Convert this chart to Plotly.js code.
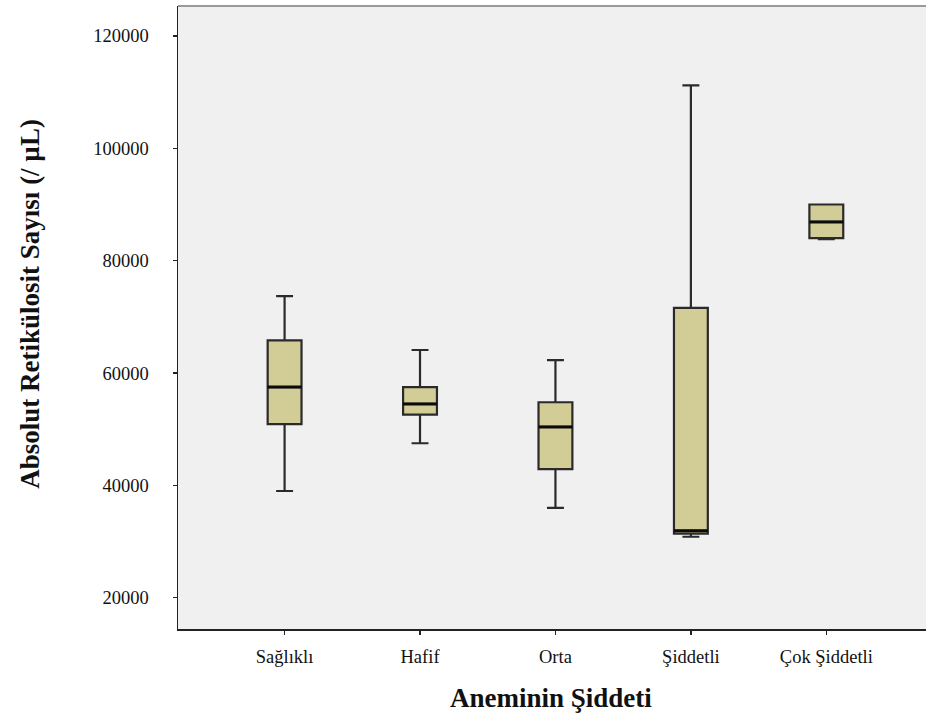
<!DOCTYPE html>
<html>
<head>
<meta charset="utf-8">
<script src="https://cdn.plot.ly/plotly-3.0.1.min.js"></script>
<style>html,body{margin:0;padding:0;background:#fff;overflow:hidden;}#chart{width:926px;height:718px;}</style>
</head>
<body>
<div id="chart"></div>
<script>
// Data
const categories = ["Sağlıklı", "Hafif", "Orta", "Şiddetli", "Çok Şiddetli"];
const lowerWhisker = [39000, 47500, 36000, 30850, 83850];
const q1Values     = [50900, 52600, 42900, 31400, 84000];
const medianValues = [57500, 54500, 50400, 31900, 86900];
const q3Values     = [65800, 57500, 54800, 71600, 90000];
const upperWhisker = [73700, 64100, 62300, 111200, 90000];
const yTickValues  = [20000, 40000, 60000, 80000, 100000, 120000];

const positions = categories.map((c, i) => i);
const boxWidth = 0.25;

// median overlay segments derived from the data
const medX = [], medY = [];
positions.forEach((p, i) => {
  medX.push(p - boxWidth / 2, p + boxWidth / 2, null);
  medY.push(medianValues[i], medianValues[i], null);
});

const fontFam = '"Liberation Serif", "Times New Roman", serif';

const traces = [
  {
    type: 'box',
    x: positions,
    q1: q1Values,
    median: medianValues,
    q3: q3Values,
    lowerfence: lowerWhisker,
    upperfence: upperWhisker,
    width: boxWidth,
    whiskerwidth: 0.5,
    fillcolor: '#d2cc96',
    line: {color: '#2a2a2a', width: 2.2},
    boxpoints: false,
    hoverinfo: 'skip',
    showlegend: false
  },
  {
    type: 'scatter',
    mode: 'lines',
    x: medX,
    y: medY,
    line: {color: '#0a0a0a', width: 3},
    hoverinfo: 'skip',
    showlegend: false
  }
];

const layout = {
  width: 926,
  height: 718,
  margin: {l: 178, r: 0, t: 6, b: 89},
  paper_bgcolor: '#ffffff',
  plot_bgcolor: '#f0f0f0',
  font: {family: fontFam, color: '#111111', size: 18.5},
  showlegend: false,
  xaxis: {
    type: 'linear',
    range: [-0.787, 4.736],
    tickvals: positions,
    ticktext: categories,
    ticks: 'outside',
    ticklen: 4,
    tickwidth: 1.5,
    tickcolor: '#222',
    showline: true,
    linecolor: '#222',
    linewidth: 1.5,
    showgrid: false,
    zeroline: false,
    ticklabelstandoff: 6,
    tickfont: {family: fontFam, size: 18.5, color: '#111'}
  },
  yaxis: {
    range: [14430, 125340],
    tickvals: yTickValues,
    ticktext: yTickValues.map(String),
    ticks: 'outside',
    ticklen: 4,
    tickwidth: 1.5,
    tickcolor: '#222',
    showline: true,
    linecolor: '#222',
    linewidth: 1.5,
    showgrid: false,
    zeroline: false,
    ticklabelstandoff: 20,
    tickfont: {family: fontFam, size: 18.5, color: '#111'}
  },
  shapes: [
    {type: 'line', xref: 'paper', yref: 'paper', x0: 0, x1: 1, y0: 1, y1: 1,
     line: {color: '#9a9a9a', width: 2}}
  ],
  annotations: [
    {text: '<b>Aneminin Şiddeti</b>', xref: 'paper', yref: 'paper', x: 0.498, y: -0.1108,
     xanchor: 'center', yanchor: 'middle', showarrow: false,
     font: {family: fontFam, size: 27, color: '#111'}},
    {text: '<b>Absolut Retikülosit Sayısı (/ µL)</b>', xref: 'paper', yref: 'paper', x: -0.198, y: 0.522,
     xanchor: 'center', yanchor: 'middle', textangle: -90, showarrow: false,
     font: {family: fontFam, size: 27, color: '#111'}}
  ]
};

Plotly.newPlot('chart', traces, layout, {displayModeBar: false, staticPlot: true});
</script>
</body>
</html>
